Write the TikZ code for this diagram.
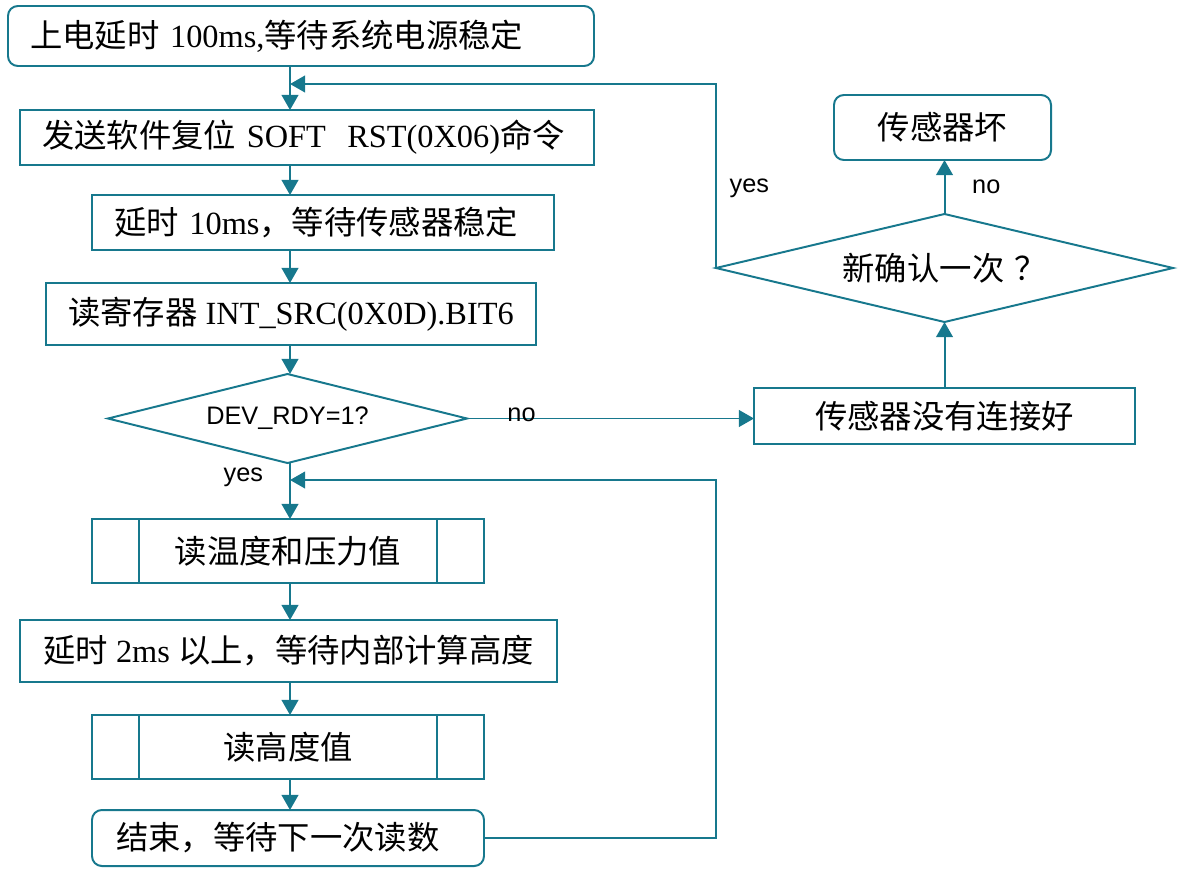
\documentclass[tikz,border=0pt]{standalone}
\usepackage{fontspec}
\setmainfont{Liberation Serif}
\newfontfamily\cjk{Noto Sans CJK SC}
\newfontfamily\tagfont{Liberation Sans}
\newcommand{\zh}[1]{{\cjk #1}}
\usetikzlibrary{arrows.meta,positioning,shapes.geometric}
\definecolor{flowteal}{HTML}{17788D}
\tikzset{
  fctext/.style={font=\fontsize{23}{27}\selectfont},
  fctag/.style={font=\tagfont\fontsize{18}{21}\selectfont},
  box/.style={
    draw=flowteal, line width=1.4pt, fctext,
    inner sep=2pt, outer sep=0pt, align=center,
  },
  lbox/.style={box, text width=#1, align=left, inner xsep=0.55cm},
  rbox/.style={box, rounded corners=7pt},
  decide/.style={diamond, aspect=4, draw=flowteal, line width=1.4pt, inner sep=1pt, outer sep=0pt},
  link/.style={draw=flowteal, line width=1.4pt},
  flow/.style={link, -{Triangle[length=0.38cm,width=0.42cm]}},
}

\begin{document}
\begin{tikzpicture}
  \useasboundingbox (0,0) rectangle (29.6,-21.7);
  \coordinate (spine) at (7.25,0);
  \coordinate (loopx) at (17.9,0);

  % main column
  \node[lbox=13.55cm, rounded corners=7pt, minimum height=1.5cm] (start) at (7.525,-0.9)
    {\zh{上电延时} 100ms,\zh{等待系统电源稳定}};
  \node[lbox=13.25cm, below=1.1cm of start, xshift=0.15cm, minimum height=1.375cm] (rst)
    {\zh{发送软件复位} SOFT\ \ RST(0X06)\zh{命令}};
  \node[lbox=10.45cm, below=0.75cm of rst, xshift=0.4cm, minimum height=1.375cm] (settle)
    {\zh{延时} 10ms\zh{，等待传感器稳定}};
  \node[box, below=0.825cm of settle, xshift=-0.8cm, minimum width=12.25cm, minimum height=1.55cm] (rdreg)
    {\zh{读寄存器} INT\_SRC(0X0D).BIT6};
  \node[decide, fctag, below=0.725cm of rdreg, xshift=-0.0875cm, minimum width=8.975cm, minimum height=2.225cm] (rdy)
    {DEV\_RDY=1?};
  \node[box, below=1.4cm of rdy, xshift=0.0125cm, minimum width=9.8cm, minimum height=1.6cm] (rdtp)
    {\zh{读温度和压力值}};
  \node[box, below=0.925cm of rdtp, xshift=0.0125cm, minimum width=13.425cm, minimum height=1.55cm] (waitalt)
    {\zh{延时} 2ms \zh{以上，等待内部计算高度}};
  \node[box, below=0.825cm of waitalt, xshift=-0.0125cm, minimum width=9.8cm, minimum height=1.6cm] (rdalt)
    {\zh{读高度值}};
  \node[lbox=8.6cm, rounded corners=7pt, inner xsep=0.6cm, below=0.775cm of rdalt, minimum height=1.4cm] (done)
    {\zh{结束，等待下一次读数}};

  % side branch
  \node[box, minimum width=9.525cm, minimum height=1.4cm] (nocon) at (23.6125,-10.4)
    {\zh{传感器没有连接好}};
  \node[decide, fctext, above=1.65cm of nocon, minimum width=11.425cm, minimum height=2.7cm] (retry)
    {\zh{新确认一次\hspace{0.3em}？}};
  \node[rbox, above=1.35cm of retry, xshift=-0.05cm, minimum width=5.425cm, minimum height=1.625cm] (bad)
    {\zh{传感器坏}};

  % sub-process bars
  \foreach \n in {rdtp, rdalt} {
    \draw[link] ([xshift=1.175cm]\n.north west) -- ([xshift=1.175cm]\n.south west);
    \draw[link] ([xshift=-1.175cm]\n.north east) -- ([xshift=-1.175cm]\n.south east);
  }

  \foreach \a/\b in {start/rst, rst/settle, settle/rdreg, rdreg/rdy, rdy/rdtp,
                     rdtp/waitalt, waitalt/rdalt, rdalt/done}
    \draw[flow] (\a.south -| spine) -- (\b.north -| spine);

  \node[fctag, anchor=north east] at ([xshift=-0.55cm]rdy.south -| spine) {yes};

  \draw[flow] (rdy.east) -- (rdy.east -| nocon.west)
    node[pos=0.19, yshift=0.1cm, fctag] {no};
  \draw[flow] (nocon.north) -- (retry.south);
  \draw[flow] (retry.north) -- (retry.north |- bad.south)
    node[midway, right=0.55cm, fctag] {no};

  \coordinate (back) at (7.25,-2.1);
  \draw[flow] (retry.west) |- (back)
    node[pos=0.217, right=0.2cm, fctag] {yes};

  \coordinate (loopin) at (7.25,-12.0);
  \draw[flow] (done.east) -- (done.east -| loopx) |- (loopin);

\end{tikzpicture}
\end{document}
